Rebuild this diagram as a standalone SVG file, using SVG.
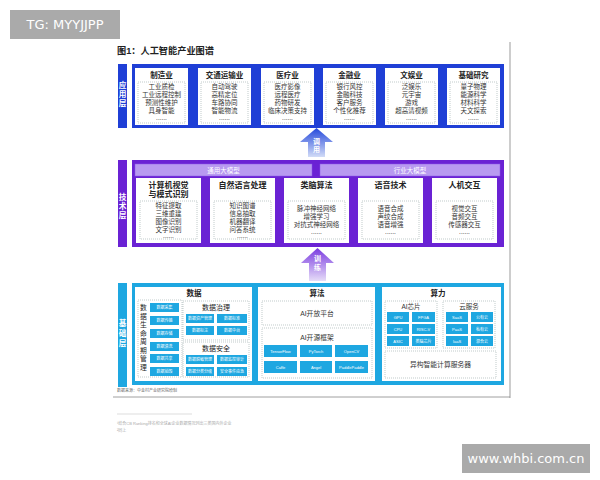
<svg xmlns="http://www.w3.org/2000/svg" width="600" height="480" viewBox="0 0 600 480">
<defs>
<style>
text{font-family:"Liberation Sans","Noto Sans CJK SC",sans-serif;}
.lbl{font-size:7.6px;font-weight:bold;fill:#fff;text-anchor:middle;}
.ct{font-size:7.5px;font-weight:bold;fill:#222;text-anchor:middle;}
.it{font-size:6.5px;fill:#333;text-anchor:middle;}
.card{fill:#fff;}
.dot{fill:none;stroke:#9aa;stroke-width:0.6;stroke-dasharray:1,1;}
.chip{fill:#1ea7e1;}
.ch{font-size:4px;fill:#fff;text-anchor:middle;}
.st{font-size:7.5px;font-weight:bold;fill:#222;text-anchor:middle;}
.bar{fill:#b89af0;stroke:#8b5ae8;stroke-width:0.5;}
.bt{font-size:6.5px;fill:#fff;text-anchor:middle;}
.wm{font-family:"DejaVu Sans","Noto Sans",sans-serif;font-size:13px;fill:#fff;text-anchor:middle;}
</style>
<linearGradient id="gB" x1="0" y1="0" x2="0" y2="1"><stop offset="0" stop-color="#2448db"/><stop offset="1" stop-color="#d2dcf7"/></linearGradient>
<linearGradient id="gP" x1="0" y1="0" x2="0" y2="1"><stop offset="0" stop-color="#7a3be0"/><stop offset="1" stop-color="#e6dcf8"/></linearGradient>
</defs>
<rect width="600" height="480" fill="#fff"/>
<g id="watermarks">
<rect x="10" y="10" width="110" height="29" fill="#aaaaaa"/>
<text class="wm" x="65" y="29">TG: MYYJJPP</text>
<rect x="462" y="444" width="128" height="29" fill="#aaaaaa"/>
<text class="wm" x="526" y="463">www.whbi.com.cn</text>
</g>
<line x1="510" y1="42" x2="510" y2="398" stroke="#bdbdbd" stroke-width="1.5"/>
<text x="117" y="54" style="font-size:9.2px;font-weight:bold;fill:#222">图1：人工智能产业图谱</text>

<g id="app-layer">
<rect x="118" y="64" width="9" height="64" fill="#1f3fd6"/>
<text class="lbl" x="122.5" y="88">应</text><text class="lbl" x="122.5" y="97">用</text><text class="lbl" x="122.5" y="106">层</text>
<rect x="132" y="64" width="372" height="64" fill="#1f3fd6"/>
</g>
<g id="app-manufacturing">
<rect class="card" x="135" y="68" width="53" height="57"/><text class="ct" x="161.5" y="78">制造业</text>
<rect class="dot" x="138" y="82" width="47" height="41"/>
<text class="it" x="161.5" y="89">工业质检</text><text class="it" x="161.5" y="97">工业远程控制</text><text class="it" x="161.5" y="105">预测性维护</text><text class="it" x="161.5" y="113">具身智能</text><text class="it" x="161.5" y="119.5">......</text>
</g>
<g id="app-transport">
<rect class="card" x="198" y="68" width="53" height="57"/><text class="ct" x="224.5" y="78">交通运输业</text>
<rect class="dot" x="201" y="82" width="47" height="41"/>
<text class="it" x="224.5" y="89">自动驾驶</text><text class="it" x="224.5" y="97">高精定位</text><text class="it" x="224.5" y="105">车路协同</text><text class="it" x="224.5" y="113">智能物流</text><text class="it" x="224.5" y="119.5">......</text>
</g>
<g id="app-medical">
<rect class="card" x="261" y="68" width="53" height="57"/><text class="ct" x="287.5" y="78">医疗业</text>
<rect class="dot" x="264" y="82" width="47" height="41"/>
<text class="it" x="287.5" y="89">医疗影像</text><text class="it" x="287.5" y="97">远程医疗</text><text class="it" x="287.5" y="105">药物研发</text><text class="it" x="287.5" y="113">临床决策支持</text><text class="it" x="287.5" y="119.5">......</text>
</g>
<g id="app-finance">
<rect class="card" x="323" y="68" width="53" height="57"/><text class="ct" x="349.5" y="78">金融业</text>
<rect class="dot" x="326" y="82" width="47" height="41"/>
<text class="it" x="349.5" y="89">银行风控</text><text class="it" x="349.5" y="97">金融科技</text><text class="it" x="349.5" y="105">客户服务</text><text class="it" x="349.5" y="113">个性化推荐</text><text class="it" x="349.5" y="119.5">......</text>
</g>
<g id="app-entertainment">
<rect class="card" x="385" y="68" width="53" height="57"/><text class="ct" x="411.5" y="78">文娱业</text>
<rect class="dot" x="388" y="82" width="47" height="41"/>
<text class="it" x="411.5" y="89">泛娱乐</text><text class="it" x="411.5" y="97">元宇宙</text><text class="it" x="411.5" y="105">游戏</text><text class="it" x="411.5" y="113">超高清视频</text><text class="it" x="411.5" y="119.5">......</text>
</g>
<g id="app-research">
<rect class="card" x="447" y="68" width="53" height="57"/><text class="ct" x="473.5" y="78">基础研究</text>
<rect class="dot" x="450" y="82" width="47" height="41"/>
<text class="it" x="473.5" y="89">量子物理</text><text class="it" x="473.5" y="97">能源科学</text><text class="it" x="473.5" y="105">材料科学</text><text class="it" x="473.5" y="113">天文探索</text><text class="it" x="473.5" y="119.5">......</text>
</g>

<g id="connectors">
<polygon points="316.5,128 333,142 325,142 325,157 308,157 308,142 300,142" fill="url(#gB)"/>
<text class="lbl" x="316.5" y="144" style="font-size:7px">调</text><text class="lbl" x="316.5" y="152" style="font-size:7px">用</text>
<polygon points="317.5,248 334,263 326,263 326,281 309,281 309,263 301,263" fill="url(#gP)"/>
<text class="lbl" x="317.5" y="261" style="font-size:7px">训</text><text class="lbl" x="317.5" y="270" style="font-size:7px">练</text>
</g>

<g id="tech-layer">
<rect x="118" y="160" width="9" height="87" fill="#6a22d4"/>
<text class="lbl" x="122.5" y="200">技</text><text class="lbl" x="122.5" y="209">术</text><text class="lbl" x="122.5" y="218">层</text>
<rect x="132" y="160" width="372" height="87" fill="#6a22d4"/>
</g>
<g id="tech-general-model"><rect class="bar" x="135" y="164" width="177" height="12"/><text class="bt" x="223.5" y="172.5">通用大模型</text></g>
<g id="tech-industry-model"><rect class="bar" x="320" y="164" width="180" height="12"/><text class="bt" x="410" y="172.5">行业大模型</text></g>
<g id="tech-cv">
<rect class="card" x="136" y="178" width="65" height="65"/><text class="ct" x="168.5" y="188" style="font-size:8px">计算机视觉</text><text class="ct" x="168.5" y="197" style="font-size:8px">与模式识别</text>
<rect class="dot" x="140" y="201" width="57" height="38"/>
<text class="it" x="168.5" y="208">特征提取</text><text class="it" x="168.5" y="216">三维重建</text><text class="it" x="168.5" y="224">图像识别</text><text class="it" x="168.5" y="232">文字识别</text><text class="it" x="168.5" y="237.5">......</text>
</g>
<g id="tech-nlp">
<rect class="card" x="210" y="178" width="65" height="65"/><text class="ct" x="242.5" y="188" style="font-size:8px">自然语言处理</text>
<rect class="dot" x="214" y="201" width="57" height="38"/>
<text class="it" x="242.5" y="208">知识图谱</text><text class="it" x="242.5" y="216">信息抽取</text><text class="it" x="242.5" y="224">机器翻译</text><text class="it" x="242.5" y="232">问答系统</text><text class="it" x="242.5" y="237.5">......</text>
</g>
<g id="tech-brain">
<rect class="card" x="284" y="178" width="65" height="65"/><text class="ct" x="316.5" y="188" style="font-size:8px">类脑算法</text>
<rect class="dot" x="288" y="201" width="57" height="38"/>
<text class="it" x="316.5" y="211">脉冲神经网络</text><text class="it" x="316.5" y="219">增强学习</text><text class="it" x="316.5" y="227">对抗式神经网络</text><text class="it" x="316.5" y="233.5">......</text>
</g>
<g id="tech-speech">
<rect class="card" x="358" y="178" width="65" height="65"/><text class="ct" x="390.5" y="188" style="font-size:8px">语音技术</text>
<rect class="dot" x="362" y="201" width="57" height="38"/>
<text class="it" x="390.5" y="211">语音合成</text><text class="it" x="390.5" y="219">声纹合成</text><text class="it" x="390.5" y="227">语音增强</text><text class="it" x="390.5" y="233.5">......</text>
</g>
<g id="tech-hci">
<rect class="card" x="432" y="178" width="65" height="65"/><text class="ct" x="464.5" y="188" style="font-size:8px">人机交互</text>
<rect class="dot" x="436" y="201" width="57" height="38"/>
<text class="it" x="464.5" y="211">视觉交互</text><text class="it" x="464.5" y="219">音频交互</text><text class="it" x="464.5" y="227">传感器交互</text><text class="it" x="464.5" y="233.5">......</text>
</g>

<g id="base-layer">
<rect x="118" y="283" width="9" height="104" fill="#1ea7e1"/>
<text class="lbl" x="122.5" y="326">基</text><text class="lbl" x="122.5" y="336">础</text><text class="lbl" x="122.5" y="346">层</text>
<rect x="132" y="283" width="372" height="102" fill="#1ea7e1"/>
</g>
<g id="base-data">
<rect class="card" x="135" y="287" width="117" height="94"/>
<text class="st" x="194" y="296">数据</text>
<rect class="dot" x="138" y="300" width="44" height="77"/>
<g class="it" style="font-size:6.8px;fill:#222">
<text x="143.5" y="310">数</text><text x="143.5" y="318.5">据</text><text x="143.5" y="327">生</text><text x="143.5" y="335.5">命</text><text x="143.5" y="344">周</text><text x="143.5" y="352.5">期</text><text x="143.5" y="361">管</text><text x="143.5" y="369.5">理</text>
</g>
<rect class="chip" x="150" y="303" width="29" height="9"/><text class="ch" x="164.5" y="309">数据采集</text>
<rect class="chip" x="150" y="316" width="29" height="9"/><text class="ch" x="164.5" y="322">数据传输</text>
<rect class="chip" x="150" y="329" width="29" height="9"/><text class="ch" x="164.5" y="335">数据存储</text>
<rect class="chip" x="150" y="342" width="29" height="9"/><text class="ch" x="164.5" y="348">数据清洗</text>
<rect class="chip" x="150" y="354" width="29" height="9"/><text class="ch" x="164.5" y="360">数据共享</text>
<rect class="chip" x="150" y="367" width="29" height="9"/><text class="ch" x="164.5" y="373">数据销毁</text>
<rect class="dot" x="183" y="301" width="66" height="39"/>
<text class="st" x="216" y="310" style="font-size:7px;font-weight:normal">数据治理</text>
<rect class="chip" x="186" y="314" width="28" height="9"/><text class="ch" x="200" y="320">数据资产管理</text>
<rect class="chip" x="217" y="314" width="30" height="9"/><text class="ch" x="232" y="320">数据标准</text>
<rect class="chip" x="186" y="326" width="28" height="9"/><text class="ch" x="200" y="332">数据标注</text>
<rect class="chip" x="217" y="326" width="30" height="9"/><text class="ch" x="232" y="332">数据中台</text>
<rect class="dot" x="183" y="342" width="66" height="35"/>
<text class="st" x="216" y="351" style="font-size:7px;font-weight:normal">数据安全</text>
<rect class="chip" x="186" y="355" width="28" height="9"/><text class="ch" x="200" y="361">数据脱敏管理</text>
<rect class="chip" x="217" y="355" width="30" height="9"/><text class="ch" x="232" y="361">数据监控审计</text>
<rect class="chip" x="186" y="367" width="28" height="9"/><text class="ch" x="200" y="373">数据分类分级</text>
<rect class="chip" x="217" y="367" width="30" height="9"/><text class="ch" x="232" y="373">安全事件应急</text>
</g>
<g id="base-algorithm">
<rect class="card" x="258" y="287" width="117" height="94"/>
<text class="st" x="317" y="296">算法</text>
<rect class="dot" x="262" y="301" width="110" height="24"/>
<text class="it" x="317" y="315.5" style="font-size:6.8px">AI开放平台</text>
<rect class="dot" x="262" y="328" width="110" height="50"/>
<text class="it" x="317" y="339.5" style="font-size:6.8px">AI开源框架</text>
<rect class="chip" x="264" y="345" width="33" height="12"/><text class="ch" x="280.5" y="352.5">TensorFlow</text>
<rect class="chip" x="300" y="345" width="32" height="12"/><text class="ch" x="316" y="352.5">PyTorch</text>
<rect class="chip" x="335" y="345" width="33" height="12"/><text class="ch" x="351.5" y="352.5">OpenCV</text>
<rect class="chip" x="264" y="361" width="33" height="12"/><text class="ch" x="280.5" y="368.5">Caffe</text>
<rect class="chip" x="300" y="361" width="32" height="12"/><text class="ch" x="316" y="368.5">Angel</text>
<rect class="chip" x="335" y="361" width="33" height="12"/><text class="ch" x="351.5" y="368.5">PaddlePaddle</text>
</g>
<g id="base-compute">
<rect class="card" x="382" y="287" width="119" height="94"/>
<text class="st" x="438" y="296">算力</text>
<rect class="dot" x="385" y="301" width="52" height="47"/>
<text class="it" x="411" y="309" style="font-size:6.5px">AI芯片</text>
<rect class="chip" x="387" y="312" width="22" height="10"/><text class="ch" x="398" y="318.5">GPU</text>
<rect class="chip" x="412" y="312" width="23" height="10"/><text class="ch" x="423.5" y="318.5">FPGA</text>
<rect class="chip" x="387" y="324" width="22" height="10"/><text class="ch" x="398" y="330.5">CPU</text>
<rect class="chip" x="412" y="324" width="23" height="10"/><text class="ch" x="423.5" y="330.5">RISC-V</text>
<rect class="chip" x="387" y="336" width="22" height="10"/><text class="ch" x="398" y="342.5">ASIC</text>
<rect class="chip" x="412" y="336" width="23" height="10"/><text class="ch" x="423.5" y="342.5">类脑芯片</text>
<rect class="dot" x="443" y="301" width="52" height="47"/>
<text class="it" x="469" y="309" style="font-size:6.5px">云服务</text>
<rect class="chip" x="446" y="312" width="22" height="10"/><text class="ch" x="457" y="318.5">SaaS</text>
<rect class="chip" x="471" y="312" width="22" height="10"/><text class="ch" x="482" y="318.5">公有云</text>
<rect class="chip" x="446" y="324" width="22" height="10"/><text class="ch" x="457" y="330.5">PaaS</text>
<rect class="chip" x="471" y="324" width="22" height="10"/><text class="ch" x="482" y="330.5">私有云</text>
<rect class="chip" x="446" y="336" width="22" height="10"/><text class="ch" x="457" y="342.5">IaaS</text>
<rect class="chip" x="471" y="336" width="22" height="10"/><text class="ch" x="482" y="342.5">混合云</text>
<rect class="dot" x="385" y="351" width="111" height="27"/>
<text class="it" x="440.5" y="367" style="font-size:6.8px">异构智能计算服务器</text>
</g>

<g id="footer">
<text x="117" y="392" style="font-size:4px;fill:#666">数据来源：中金村产业研究院绘制</text>
<line x1="113" y1="397" x2="510" y2="397" stroke="#888" stroke-width="0.8"/>
<line x1="117" y1="414" x2="192" y2="414" stroke="#bbb" stroke-width="0.5"/>
<text x="117" y="425" style="font-size:4px;fill:#aaa">¹结合CB Ranking排名和全球AI企业数据情况列出三类国内外企业</text>
<text x="117" y="432" style="font-size:4px;fill:#aaa">²同上</text>
</g>
</svg>
